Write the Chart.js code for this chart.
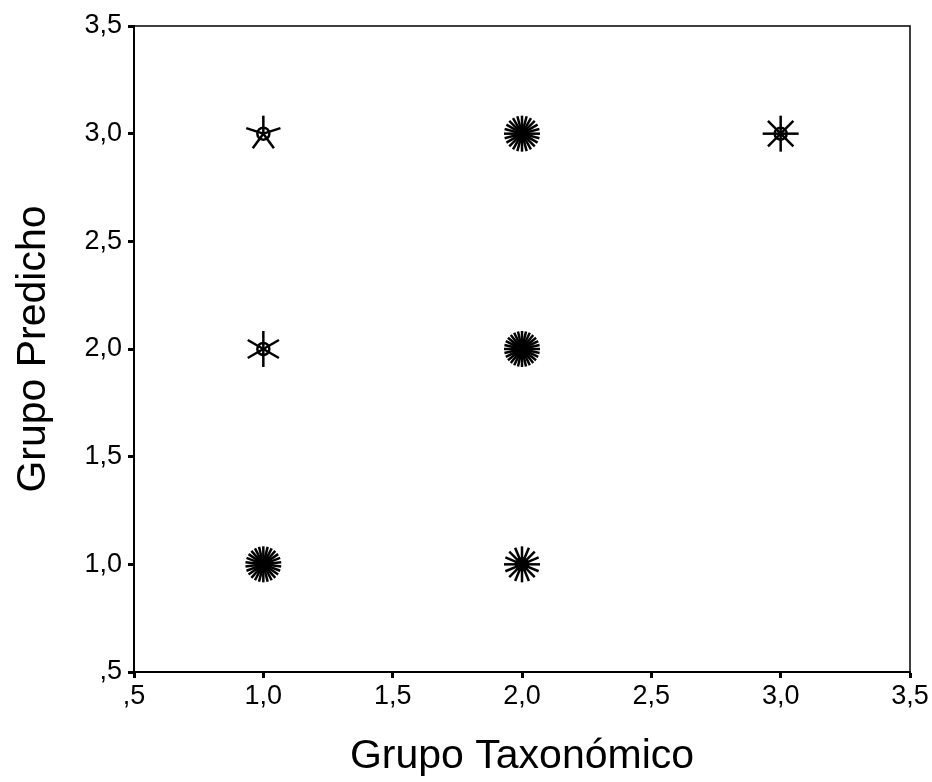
<!DOCTYPE html>
<html>
<head>
<meta charset="utf-8">
<script src="https://cdn.jsdelivr.net/npm/chart.js@4/dist/chart.umd.min.js"></script>
<style>
  body { margin: 0; background: #fff; }
  #wrap { width: 932px; height: 782px; }
</style>
</head>
<body>
<div id="wrap"><canvas id="sunflower" width="932" height="782"></canvas></div>
<script>
// taxonomic group vs predicted group, one petal per case
const grupoTaxonomico = [1, 2, 3, 1, 2, 1, 2];
const grupoPredicho   = [3, 3, 3, 2, 2, 1, 1];
const casos           = [5, 24, 8, 6, 28, 26, 16];
const tickValues = [0.5, 1.0, 1.5, 2.0, 2.5, 3.0, 3.5];

function fmtTick(v) {
  // SPSS style: decimal comma, no leading zero
  return Number(v).toFixed(1).replace('.', ',').replace(/^0/, '');
}

// draws petals around each point and the top/right frame of the plot
const sunflowers = {
  id: 'sunflowers',
  afterDatasetsDraw(chart) {
    const ctx = chart.ctx;
    const meta = chart.getDatasetMeta(0);
    ctx.save();
    ctx.strokeStyle = '#000';
    ctx.lineWidth = 2.5;
    meta.data.forEach((pt, i) => {
      const n = casos[i];
      const len = 18;
      for (let k = 0; k < n; k++) {
        const a = -Math.PI / 2 + k * 2 * Math.PI / n;
        ctx.beginPath();
        ctx.moveTo(pt.x, pt.y);
        ctx.lineTo(pt.x + Math.cos(a) * len, pt.y + Math.sin(a) * len);
        ctx.stroke();
      }
      ctx.beginPath();
      ctx.arc(pt.x, pt.y, 6, 0, 2 * Math.PI);
      ctx.stroke();
    });
    const a = chart.chartArea;
    ctx.lineWidth = 1.5;
    ctx.beginPath();
    ctx.moveTo(a.left, a.top);
    ctx.lineTo(a.right, a.top);
    ctx.lineTo(a.right, a.bottom);
    ctx.stroke();
    ctx.restore();
  }
};

const tickFont = { family: 'Liberation Sans, Arial, sans-serif', size: 27 };
const titleFont = { family: 'Liberation Sans, Arial, sans-serif', size: 41, lineHeight: 1 };

new Chart(document.getElementById('sunflower'), {
  type: 'scatter',
  data: {
    datasets: [{
      data: grupoTaxonomico.map((x, i) => ({ x: x, y: grupoPredicho[i] })),
      pointRadius: 0,
      pointHoverRadius: 0
    }]
  },
  options: {
    responsive: false,
    animation: false,
    layout: { padding: { top: 26, right: 22, left: 0, bottom: 0 } },
    plugins: { legend: { display: false }, tooltip: { enabled: false } },
    scales: {
      x: {
        type: 'linear',
        min: 0.5, max: 3.5,
        afterBuildTicks(s) { s.ticks = tickValues.map(v => ({ value: v })); },
        afterFit(s) { s.height = 110; },
        grid: { drawOnChartArea: false, tickLength: 6, tickWidth: 3, color: '#000' },
        border: { color: '#000', width: 2 },
        ticks: { color: '#000', font: tickFont, padding: 2, maxRotation: 0, callback: fmtTick },
        title: { display: true, text: 'Grupo Taxonómico', color: '#000', font: titleFont, padding: { bottom: 5 } }
      },
      y: {
        type: 'linear',
        min: 0.5, max: 3.5,
        afterBuildTicks(s) { s.ticks = tickValues.map(v => ({ value: v })); },
        afterFit(s) { s.width = 134; },
        grid: { drawOnChartArea: false, tickLength: 6, tickWidth: 3, color: '#000' },
        border: { color: '#000', width: 2 },
        ticks: { color: '#000', font: tickFont, padding: 6, callback: fmtTick },
        title: { display: true, text: 'Grupo Predicho', color: '#000', font: titleFont, padding: { top: 13 } }
      }
    }
  },
  plugins: [sunflowers]
});
</script>
</body>
</html>
